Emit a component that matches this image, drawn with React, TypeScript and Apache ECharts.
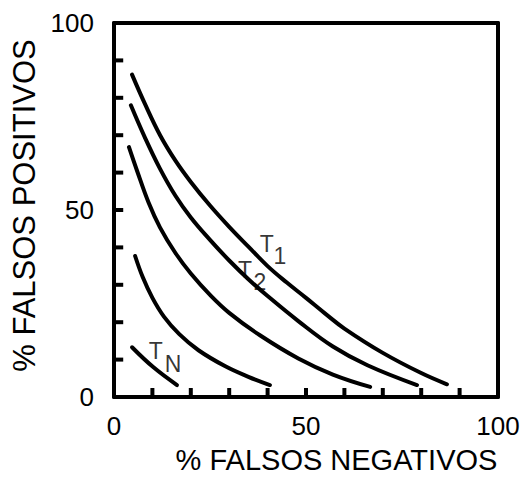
import React, { useEffect, useRef } from "react";
import * as echarts from "echarts";

// Curves: [% falsos negativos, % falsos positivos]
const curveT1: number[][] = [
  [4.7, 86.2], [8, 78.5], [12, 70], [16, 63.2], [20, 57.5], [25, 51.2], [30, 45.5],
  [35, 40.2], [40, 35], [45, 30.6], [50, 26.5], [55, 22.3], [60, 18.3], [70, 11.8],
  [80, 6.4], [86.7, 3.4],
];
const curveT2: number[][] = [
  [4.4, 78], [8, 69.5], [12, 61], [16, 53.8], [20, 48], [25, 42], [30, 36.5],
  [35, 31.5], [40, 27], [48, 20.3], [57, 13.5], [66, 8.5], [78.9, 3.2],
];
const curve3: number[][] = [
  [3.9, 66.8], [6, 60.5], [9, 52], [12, 45.3], [16, 38.5], [20, 33], [25, 27.3],
  [30, 22.5], [38, 16.5], [48, 10.3], [57, 6], [66.7, 2.7],
];
const curve4: number[][] = [
  [5.5, 37.7], [7.5, 32], [10, 26.5], [13, 21.5], [17, 16.8], [22, 12.5], [29, 8.2],
  [35, 5.4], [40.6, 3.2],
];
const curveTN: number[][] = [
  [4.7, 13.3], [10.2, 8.0], [16.4, 3.2],
];

// Curve labels: main letter and subscript, at data positions
const labelMain: [number, number, string][] = [
  [39.8, 40.8, "T"],
  [34.1, 34.0, "T"],
  [10.9, 12.2, "T"],
];
const labelSub: [number, number, string][] = [
  [43.2, 37.7, "1"],
  [38.0, 30.8, "2"],
  [15.4, 8.8, "N"],
];

// Inward tick marks on both axes (every 10 units)
const tickValues = [10, 20, 30, 40, 50, 60, 70, 80, 90];
const shownTicks = [0, 50, 100];
const xTitle = "% FALSOS NEGATIVOS";
const yTitle = "% FALSOS POSITIVOS";

const FONT = "'Liberation Sans', Arial, Helvetica, sans-serif";
const TICK_LEN = 2.4; // tick length in axis units (~9 px)

export default function App() {
  const ref = useRef<HTMLDivElement>(null);
  useEffect(() => {
    if (!ref.current) return;
    const chart = echarts.init(ref.current, undefined, { renderer: "svg" });
    const lineSeries = (data: number[][]) => ({
      type: "line",
      data,
      smooth: 0.4,
      symbol: "none",
      lineStyle: { color: "#000", width: 4, cap: "round" },
      silent: true,
    });
    const tickLine = (data: number[][]) => ({
      type: "line",
      data,
      symbol: "none",
      lineStyle: { color: "#000", width: 4, cap: "butt" },
      silent: true,
      clip: false,
    });
    const textSeries = (pts: [number, number, string][]) => ({
      type: "scatter",
      data: pts.map((p) => ({ value: [p[0], p[1]], name: p[2] })),
      symbolSize: 0,
      itemStyle: { color: "transparent" },
      label: {
        show: true,
        position: "inside",
        formatter: (p: any) => p.name,
        color: "#000",
        fontSize: 23,
        fontFamily: FONT,
      },
      silent: true,
    });
    const tickSeries: any[] = [];
    tickValues.forEach((v) => {
      tickSeries.push(tickLine([[v, 0], [v, TICK_LEN]]));
      tickSeries.push(tickLine([[0, v], [TICK_LEN, v]]));
    });
    const lineStyle = { color: "#000", width: 4 };
    const mainAxis = {
      type: "value",
      min: 0,
      max: 100,
      interval: 10,
      splitLine: { show: false },
      axisLine: { show: true, onZero: false, lineStyle },
      axisTick: { show: false },
      nameLocation: "middle",
    };
    const borderAxis = {
      type: "value",
      min: 0,
      max: 100,
      interval: 10,
      splitLine: { show: false },
      axisLine: { show: true, onZero: false, lineStyle },
      axisTick: { show: false },
      axisLabel: { show: false },
    };
    chart.setOption({
      animation: false,
      backgroundColor: "#fff",
      grid: {
        left: 114,
        top: 23,
        right: 27,
        bottom: 79,
        show: false,
      },
      xAxis: [
        {
          ...mainAxis,
          position: "bottom",
          name: xTitle,
          nameGap: 48,
          nameTextStyle: {
            color: "#000",
            fontSize: 29,
            fontFamily: FONT,
            padding: [0, 0, 0, 61],
          },
          axisLabel: {
            color: "#000",
            fontSize: 26,
            fontFamily: FONT,
            margin: 16,
            formatter: (v: number) => (shownTicks.includes(v) ? String(v) : ""),
          },
        },
        { ...borderAxis, position: "top" },
      ],
      yAxis: [
        {
          ...mainAxis,
          position: "left",
          name: yTitle,
          nameGap: 74,
          nameTextStyle: {
            color: "#000",
            fontSize: 31,
            fontFamily: FONT,
            padding: [0, 0, 0, 9],
          },
          axisLabel: {
            color: "#000",
            fontSize: 26,
            fontFamily: FONT,
            margin: 20,
            formatter: (v: number) => (shownTicks.includes(v) ? String(v) : ""),
          },
        },
        { ...borderAxis, position: "right" },
      ],
      series: [
        lineSeries(curveT1),
        lineSeries(curveT2),
        lineSeries(curve3),
        lineSeries(curve4),
        lineSeries(curveTN),
        textSeries(labelMain),
        textSeries(labelSub),
        ...tickSeries,
      ],
    });
    return () => chart.dispose();
  }, []);
  return (
    <div
      ref={ref}
      style={{ position: "fixed", left: 0, top: 0, width: 525, height: 479, background: "#fff" }}
    />
  );
}
